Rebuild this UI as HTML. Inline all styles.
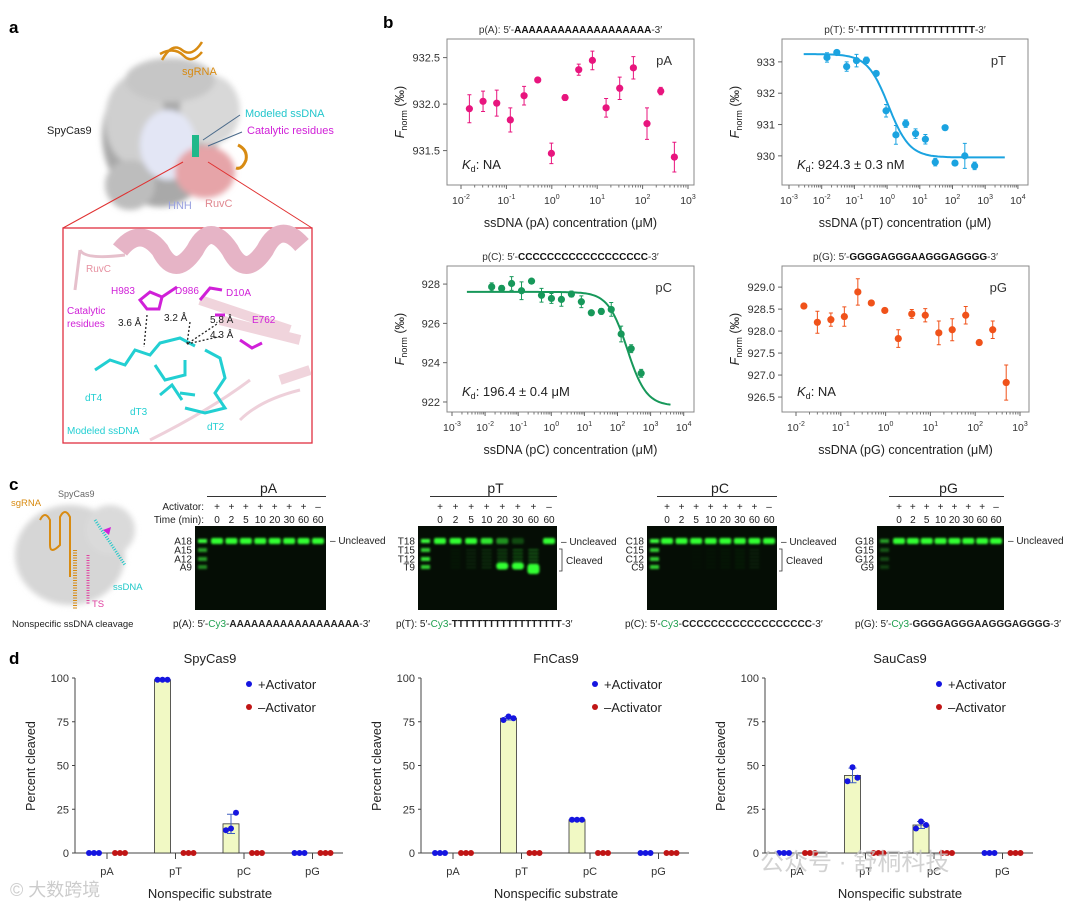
<!DOCTYPE html>
<html><head><meta charset="utf-8">
<style>
html,body{margin:0;padding:0;background:#fff;}
svg{display:block;font-family:"Liberation Sans",Arial,sans-serif;}
</style></head>
<body>
<svg id="fig" width="1080" height="908" viewBox="0 0 1080 908" xmlns="http://www.w3.org/2000/svg">
<defs>
<filter id="glow" x="-50%" y="-50%" width="200%" height="200%"><feGaussianBlur stdDeviation="1.1"/></filter>
<filter id="soft" x="-20%" y="-20%" width="140%" height="140%"><feGaussianBlur stdDeviation="3"/></filter>
</defs>
<!-- panel letters -->
<text x="9" y="33" font-size="17" font-weight="bold">a</text>
<text x="383" y="28" font-size="17" font-weight="bold">b</text>
<text x="9" y="490" font-size="17" font-weight="bold">c</text>
<text x="9" y="664" font-size="17" font-weight="bold">d</text>

<!-- panel a structure -->
<g>
 <g filter="url(#soft)">
  <ellipse cx="160" cy="135" rx="58" ry="72" fill="#a9a9a9"/>
  <ellipse cx="135" cy="120" rx="30" ry="45" fill="#cfcfcf"/>
  <ellipse cx="210" cy="110" rx="30" ry="35" fill="#d8d8d8"/>
  <ellipse cx="170" cy="80" rx="45" ry="22" fill="#c6c6c6"/>
  <ellipse cx="130" cy="185" rx="25" ry="25" fill="#bdbdbd"/>
  <ellipse cx="168" cy="145" rx="28" ry="35" fill="#e3e6f5"/>
  <ellipse cx="205" cy="172" rx="30" ry="26" fill="#e6a4a8"/>
 </g>
 <path d="M162,60 q10,-18 20,-10 q10,8 20,-8 M160,54 q14,-8 24,2 q8,8 18,-4" stroke="#d88b12" stroke-width="2.5" fill="none"/>
 <path d="M238,145 q10,5 8,15 q-4,10 -10,8" stroke="#d88b12" stroke-width="3" fill="none"/>
 <rect x="192" y="135" width="7" height="22" fill="#1fb88a"/>
 <line x1="203" y1="140" x2="240" y2="115" stroke="#4a6a8a" stroke-width="1"/>
 <line x1="208" y1="146" x2="242" y2="132" stroke="#4a6a8a" stroke-width="1"/>
</g>
<text x="182" y="75" font-size="11" fill="#d88b12">sgRNA</text>
<text x="245" y="117" font-size="11" fill="#22c6cc">Modeled ssDNA</text>
<text x="247" y="134" font-size="11" fill="#d020d8">Catalytic residues</text>
<text x="47" y="134" font-size="11" fill="#222">SpyCas9</text>
<text x="168" y="209" font-size="11" fill="#9aa2e0">HNH</text>
<text x="205" y="207" font-size="11" fill="#e08890">RuvC</text>
<line x1="183" y1="162" x2="63" y2="228" stroke="#e03030" stroke-width="1"/>
<line x1="208" y1="162" x2="312" y2="228" stroke="#e03030" stroke-width="1"/>
<g>
 <rect x="63" y="228" width="249" height="215" fill="#fff" stroke="#e03040" stroke-width="1.3"/>
 <path d="M120,250 q20,-25 40,0 q15,30 35,0 q15,-30 35,0 q15,30 35,0 q15,-30 37,-5" stroke="#e6b4c6" stroke-width="18" fill="none"/>
 <path d="M80,250 q5,10 45,5 M80,250 l-5,40" stroke="#e6c0cc" stroke-width="3" fill="none"/>
 <path d="M200,300 l90,30 M220,320 l80,20 M280,380 l30,-10" stroke="#f0d4dc" stroke-width="10" fill="none"/>
 <path d="M150,440 q60,-30 100,-60 M240,420 q20,-20 60,-30" stroke="#eed0da" stroke-width="3" fill="none"/>
 <g stroke="#22cfd2" stroke-width="3" fill="none">
  <path d="M95,370 l15,-10 l15,5 l10,-15 l15,5 l10,-12 l20,-5 l15,8"/>
  <path d="M155,365 l10,15 l20,-5 l0,-15 M160,395 l12,-10 l10,15"/>
  <path d="M205,350 l15,8 l5,20 l-10,15 l10,15 l-20,5 l-20,-5 M195,395 l-15,-2"/>
 </g>
 <g stroke="#d020d8" stroke-width="3" fill="none">
  <path d="M140,300 l10,-8 l12,5 l-3,12 l-12,0z M162,297 l15,-10"/>
  <path d="M200,300 l10,-12 l12,2 M215,315 l10,0"/>
  <path d="M240,340 l12,8 l10,-5"/>
 </g>
 <g stroke="#222" stroke-width="1.3" stroke-dasharray="2,2" fill="none">
  <path d="M147,315 l-3,32 M190,322 l-3,22 l30,-20 M187,344 l35,-8"/>
 </g>
</g>
<text x="86" y="272" font-size="10" fill="#e690a0">RuvC</text>
<text x="111" y="294" font-size="10" fill="#d020d8">H983</text>
<text x="175" y="294" font-size="10" fill="#d020d8">D986</text>
<text x="226" y="296" font-size="10" fill="#d020d8">D10A</text>
<text x="67" y="314" font-size="10" fill="#d020d8">Catalytic</text>
<text x="67" y="327" font-size="10" fill="#d020d8">residues</text>
<text x="118" y="326" font-size="10" fill="#222">3.6 Å</text>
<text x="164" y="321" font-size="10" fill="#222">3.2 Å</text>
<text x="210" y="323" font-size="10" fill="#222">5.8 Å</text>
<text x="210" y="338" font-size="10" fill="#222">4.3 Å</text>
<text x="252" y="323" font-size="10" fill="#d020d8">E762</text>
<text x="85" y="401" font-size="10" fill="#22cfd2">dT4</text>
<text x="130" y="415" font-size="10" fill="#22cfd2">dT3</text>
<text x="207" y="430" font-size="10" fill="#22cfd2">dT2</text>
<text x="67" y="434" font-size="10" fill="#22cfd2">Modeled ssDNA</text>

<!-- panel c cartoon -->
<g>
 <g filter="url(#soft)">
  <ellipse cx="70" cy="555" rx="55" ry="50" fill="#d6d6d6"/>
  <ellipse cx="110" cy="530" rx="25" ry="25" fill="#dadada"/>
 </g>
 <path d="M40,520 q5,-10 10,0 l0,25 q0,10 10,0 l0,-28 q5,-10 10,0 l0,60" stroke="#d88b12" stroke-width="2" fill="none"/>
 <line x1="75" y1="550" x2="75" y2="610" stroke="#d88b12" stroke-width="4" stroke-dasharray="1,1.5"/>
 <line x1="88" y1="555" x2="88" y2="605" stroke="#e040a0" stroke-width="3" stroke-dasharray="1,1.5"/>
 <line x1="95" y1="520" x2="125" y2="565" stroke="#20c8c8" stroke-width="3" stroke-dasharray="1,1.5"/>
 <path d="M103,530 l8,-3 l-2,8z" fill="#d020d8"/>
</g>
<text x="58" y="497" font-size="9" fill="#666">SpyCas9</text>
<text x="11" y="506" font-size="9.5" fill="#d88b12">sgRNA</text>
<text x="113" y="590" font-size="9.5" fill="#20c8c8">ssDNA</text>
<text x="92" y="607" font-size="9.5" fill="#e040a0">TS</text>
<text x="12" y="627" font-size="9.5" fill="#222">Nonspecific ssDNA cleavage</text>

<g id="panelB"></g>
<g id="panelC"></g>
<g id="panelD"></g>

<text x="10" y="896" font-size="18" fill="#ccc">© 大数跨境</text>
<text x="760" y="870" font-size="24" fill="#c8c8c8" opacity="0.8">公众号 · 舒桐科技</text>
</svg>
<script>
const NS = "http://www.w3.org/2000/svg";
function mk(parent, tag, attrs, txt) {
  const e = document.createElementNS(NS, tag);
  for (const k in attrs) e.setAttribute(k, attrs[k]);
  if (txt !== undefined) e.textContent = txt;
  parent.appendChild(e);
  return e;
}
const FONT = '"Liberation Sans","Noto Sans CJK SC",sans-serif';

/* ---------- Panel b data ---------- */
const pA_conc = [0.0153,0.0306,0.0612,0.122,0.245,0.49,0.98,1.96,3.92,7.84,15.7,31.3,62.7,125,251,501];
const pA_vals = [931.95,932.03,932.01,931.83,932.09,932.26,931.47,932.07,932.37,932.47,931.96,932.17,932.39,931.79,932.14,931.43];
const pA_err  = [0.15,0.11,0.14,0.13,0.10,0.02,0.11,0.03,0.06,0.10,0.10,0.12,0.12,0.17,0.04,0.16];
const pT_conc = [0.0145,0.029,0.058,0.116,0.232,0.464,0.93,1.86,3.71,7.42,14.8,29.7,59.4,119,238,475];
const pT_vals = [933.14,933.30,932.85,933.04,933.05,932.63,931.44,930.67,931.03,930.71,930.53,929.80,930.9,929.77,930.0,929.68];
const pT_err  = [0.15,0.05,0.15,0.2,0.1,0.05,0.2,0.3,0.12,0.15,0.15,0.12,0,0.05,0.4,0.12];
const pC_conc = [0.0158,0.0316,0.0632,0.126,0.253,0.506,1.01,2.02,4.05,8.09,16.2,32.4,64.7,129,259,518];
const pC_vals = [927.86,927.78,928.03,927.66,928.15,927.43,927.27,927.22,927.49,927.10,926.54,926.61,926.71,925.46,924.71,923.46];
const pC_err  = [0.2,0.15,0.35,0.45,0.1,0.35,0.25,0.35,0.15,0.3,0.1,0.15,0.35,0.4,0.2,0.2];
const pG_conc = [0.015,0.03,0.06,0.12,0.24,0.48,0.96,1.92,3.84,7.68,15.4,30.7,61.4,123,246,492];
const pG_vals = [928.57,928.20,928.26,928.33,928.89,928.64,928.47,927.83,928.39,928.36,927.96,928.03,928.36,927.74,928.03,926.83];
const pG_err  = [0.05,0.25,0.15,0.22,0.3,0.05,0.05,0.2,0.1,0.15,0.27,0.25,0.2,0.02,0.2,0.4];
const pA_yticks = [931.5,932.0,932.5];
const pT_yticks = [930,931,932,933];
const pC_yticks = [922,924,926,928];
const pG_yticks = [926.5,927.0,927.5,928.0,928.5,929.0];
const pT_fit = {top:933.25, bottom:929.95, kd:1.1, n:1.35};
const pC_fit = {top:927.6, bottom:921.8, kd:196, n:1.5};

const panelsB = [
 {key:"pa", title:"p(A):  5′-", seq:"AAAAAAAAAAAAAAAAAAA", name:"pA", color:"#e8157e", x0:447, x1:694, y0:39, y1:185, d0:-2, xAt:461, perDec:45.4, dMin:-2, dMax:3, vTop:932.70, vBot:931.13, yt:pA_yticks, fmt:v=>v.toFixed(1), conc:pA_conc, vals:pA_vals, err:pA_err, fit:null, kd:"NA", xl:"ssDNA (pA) concentration (μM)"},
 {key:"pt", title:"p(T):  5′-", seq:"TTTTTTTTTTTTTTTTTTT", name:"pT", color:"#1ba3e0", x0:782, x1:1028, y0:39, y1:185, d0:-3, xAt:789, perDec:32.7, dMin:-3, dMax:4, vTop:933.73, vBot:929.07, yt:pT_yticks, fmt:v=>v.toFixed(0), conc:pT_conc, vals:pT_vals, err:pT_err, fit:pT_fit, kd:"924.3 ± 0.3 nM", xl:"ssDNA (pT) concentration (μM)"},
 {key:"pc", title:"p(C):  5′-", seq:"CCCCCCCCCCCCCCCCCC", name:"pC", color:"#17985a", x0:447, x1:694, y0:266, y1:412, d0:-3, xAt:452, perDec:33.1, dMin:-3, dMax:4, vTop:928.92, vBot:921.49, yt:pC_yticks, fmt:v=>v.toFixed(0), conc:pC_conc, vals:pC_vals, err:pC_err, fit:pC_fit, kd:"196.4 ± 0.4 μM", xl:"ssDNA (pC) concentration (μM)"},
 {key:"pg", title:"p(G):  5′-", seq:"GGGGAGGGAAGGGAGGGG", name:"pG", color:"#f0521a", x0:782, x1:1029, y0:266, y1:412, d0:-2, xAt:796, perDec:44.8, dMin:-2, dMax:3, vTop:929.48, vBot:926.16, yt:pG_yticks, fmt:v=>v.toFixed(1), conc:pG_conc, vals:pG_vals, err:pG_err, fit:null, kd:"NA", xl:"ssDNA (pG) concentration (μM)"}
];

const gB = document.getElementById("panelB");
panelsB.forEach(p => {
  const g = mk(gB, "g", {});
  
  
  const xs = c => p.xAt + (Math.log10(c) - p.d0) * p.perDec;
  const ys = v => p.y0 + (p.vTop - v) / (p.vTop - p.vBot) * (p.y1 - p.y0);
  const cx = (p.x0 + p.x1) / 2;
  const t = mk(g, "text", {x: cx, y: p.y0 - 6, "font-size": 10, "text-anchor": "middle", fill: "#333"});
  
  
  mk(t, "tspan", {}, p.title);
  mk(t, "tspan", {"font-weight": "bold", fill: "#111"}, p.seq);
  mk(t, "tspan", {}, "-3′");
  const box = mk(g, "rect", {x: p.x0, y: p.y0, width: p.x1 - p.x0, height: p.y1 - p.y0, fill: "none", stroke: "#888", "stroke-width": 1});
  
  
  // y ticks
  p.yt.forEach(v => {
    const y = ys(v);
    mk(g, "line", {x1: p.x0 - 4, x2: p.x0, y1: y, y2: y, stroke: "#666"});
    const lb = mk(g, "text", {x: p.x0 - 7, y: y + 4, "font-size": 11, "text-anchor": "end", fill: "#333"}, p.fmt(v));
    
    
  });
  // x ticks
  for (let d = p.dMin; d <= p.dMax; d++) {
    const x = p.xAt + (d - p.d0) * p.perDec;
    mk(g, "line", {x1: x, x2: x, y1: p.y1, y2: p.y1 + 4, stroke: "#666"});
    const lb = mk(g, "text", {x: x, y: p.y1 + 19, "font-size": 10.5, "text-anchor": "middle", fill: "#333"});
    
    
    mk(lb, "tspan", {}, "10");
    mk(lb, "tspan", {dy: -5, "font-size": 7}, String(d));
    if (d < p.dMax) for (let m = 2; m < 10; m++) {
      const xm = x + Math.log10(m) * p.perDec;
      mk(g, "line", {x1: xm, x2: xm, y1: p.y1, y2: p.y1 + 2.5, stroke: "#777"});
    }
  }
  const xl = mk(g, "text", {x: cx, y: p.y1 + 42, "font-size": 12.5, "text-anchor": "middle", fill: "#222"}, p.xl);
  
  
  const yl = mk(g, "text", {transform: `translate(${p.x0 - 43},${(p.y0 + p.y1) / 2}) rotate(-90)`, "font-size": 12.5, "text-anchor": "middle", fill: "#222"});
  
  
  mk(yl, "tspan", {"font-style": "italic"}, "F");
  mk(yl, "tspan", {dy: 3, "font-size": 9}, "norm");
  mk(yl, "tspan", {dy: -3}, " (‰)");
  const nm = mk(g, "text", {x: p.x1 - 22, y: p.y0 + 26, "font-size": 13, "text-anchor": "end", fill: "#333"}, p.name);
  
  
  const kd = mk(g, "text", {x: p.x0 + 15, y: p.y1 - 16, "font-size": 13, fill: "#222"});
  
  
  mk(kd, "tspan", {"font-style": "italic"}, "K");
  mk(kd, "tspan", {dy: 3, "font-size": 9}, "d");
  mk(kd, "tspan", {dy: -3}, ": " + p.kd);
  if (p.fit) {
    const f = p.fit; let d = "";
    for (let i = 0; i <= 120; i++) {
      const lc = -2.55 + i * (6.15 / 120); const c = Math.pow(10, lc);
      const v = f.bottom + (f.top - f.bottom) / (1 + Math.pow(c / f.kd, f.n));
      d += (i ? "L" : "M") + xs(c).toFixed(1) + "," + ys(v).toFixed(1);
    }
    const fl = mk(g, "path", {d: d, stroke: p.color, "stroke-width": 2, fill: "none"});
    
    
  }
  p.conc.forEach((c, i) => {
    const x = xs(c), y = ys(p.vals[i]), e = p.err[i];
    if (e > 0) {
      const eb = mk(g, "path", {d: `M${x},${ys(p.vals[i] + e)}V${ys(p.vals[i] - e)}M${x - 2},${ys(p.vals[i] + e)}h4M${x - 2},${ys(p.vals[i] - e)}h4`, stroke: p.color, "stroke-width": 1, fill: "none"});
      
      
    }
    const pt = mk(g, "circle", {cx: x, cy: y, r: 3.6, fill: p.color});
    
    
  });
});

/* ---------- Panel c gels ---------- */
const lane_times = ["0","2","5","10","20","30","60","60"];
const lane_act = ["+","+","+","+","+","+","+","–"];
const gA_uncl = [1,1,1,1,1,1,1,1];
const gT_uncl = [1,1,1,0.9,0.55,0.25,0,1];
const gC_uncl = [1,1,1,1,1,1,1,1];
const gG_uncl = [1,1,1,1,1,1,1,1];
const gA_cleav = [0,0,0,0,0,0,0,0];
const gT_cleav = [0,0.15,0.3,0.45,0.7,0.9,1,0];
const gC_cleav = [0,0,0.05,0.1,0.15,0.2,0.25,0];
const gG_cleav = [0,0,0,0,0,0,0,0];
const gels = [
 {key:"pa", t:"pA", L:"A", x0:195, x1:326, lane0:217, uncl:gA_uncl, cl:gA_cleav, seq:"AAAAAAAAAAAAAAAAAA", cleavedLbl:false, ladder:[1,0.6,0.6,0.5]},
 {key:"pt", t:"pT", L:"T", x0:418, x1:557, lane0:440, uncl:gT_uncl, cl:gT_cleav, seq:"TTTTTTTTTTTTTTTTTT", cleavedLbl:true, ladder:[1,0.8,0.9,0.8]},
 {key:"pc", t:"pC", L:"C", x0:647, x1:777, lane0:667, uncl:gC_uncl, cl:gC_cleav, seq:"CCCCCCCCCCCCCCCCCC", cleavedLbl:true, ladder:[1,0.8,0.8,0.8]},
 {key:"pg", t:"pG", L:"G", x0:877, x1:1004, lane0:899, uncl:gG_uncl, cl:gG_cleav, seq:"GGGGAGGGAAGGGAGGGG", cleavedLbl:false, ladder:[0.6,0.3,0.25,0.2]}
];
const ladderSizes = ["18","15","12","9"];
const ladderY = [541,550,559,567];
const gC = document.getElementById("panelC");
gels.forEach((G, gi) => {
  const g = mk(gC, "g", {});
  
  
  const sp = (G.x1 - G.lane0 - 8) / 7;
  const cx = (G.x0 + G.x1) / 2 + 8;
  const tt = mk(g, "text", {x: cx, y: 493, "font-size": 14, "text-anchor": "middle", fill: "#222"}, G.t);
  
  
  mk(g, "line", {x1: G.lane0 - 10, x2: G.x1, y1: 496.5, y2: 496.5, stroke: "#333", "stroke-width": 1});
  if (gi === 0) {
    const a = mk(g, "text", {x: 204, y: 510, "font-size": 10, "text-anchor": "end", fill: "#222"}, "Activator:");
    
    
    const b = mk(g, "text", {x: 204, y: 523, "font-size": 10, "text-anchor": "end", fill: "#222"}, "Time (min):");
    
    
  }
  const bg = mk(g, "rect", {x: G.x0, y: 526, width: G.x1 - G.x0, height: 84, fill: "#050d05"});
  
  
  const bands = mk(g, "g", {filter: "url(#glow)"});
  ladderSizes.forEach((s, k) => {
    mk(bands, "rect", {x: G.x0 + 3, y: ladderY[k] - 2, width: 9, height: 4, fill: "#3cff3c", opacity: G.ladder[k]});
    const lb = mk(g, "text", {x: G.x0 - 3, y: ladderY[k] + 3.5, "font-size": 10, "text-anchor": "end", fill: "#222"}, G.L + s);
    
    
  });
  lane_times.forEach((tm, i) => {
    const lx = G.lane0 + i * sp;
    const ac = mk(g, "text", {x: lx, y: 510, "font-size": 10, "text-anchor": "middle", fill: "#222"}, lane_act[i]);
    
    
    const tl = mk(g, "text", {x: lx, y: 523, "font-size": 10, "text-anchor": "middle", fill: "#222"}, tm);
    
    
    if (G.uncl[i] > 0) {
      const b = mk(bands, "rect", {x: lx - 6, y: 538, width: 12, height: 6, rx: 2, fill: "#33ff33", opacity: G.uncl[i]});
      
      
    }
    const c = G.cl[i];
    if (c > 0) {
      for (let k = 0; k < 6; k++) mk(bands, "rect", {x: lx - 5, y: 549 + k * 3.5, width: 10, height: 2, fill: "#30ee30", opacity: c * 0.35});
      if (G.key === "pt" && c >= 0.7) {
        const h = c >= 1 ? 10 : 7;
        mk(bands, "rect", {x: lx - 6, y: 569 - h / 2 - (c >= 1 ? 0 : 3), width: 12, height: h, rx: 3, fill: "#33ff33"});
      }
    }
  });
  const u = mk(g, "text", {x: G.x1 + 4, y: G.key === "pa" || G.key === "pg" ? 544 : 545, "font-size": 10, fill: "#222"}, "– Uncleaved");
  
  
  if (G.cleavedLbl) {
    mk(g, "path", {d: `M${G.x1 + 2},549h3v22h-3`, stroke: "#333", fill: "none", "stroke-width": 0.8});
    const cl = mk(g, "text", {x: G.x1 + 9, y: 564, "font-size": 10, fill: "#222"}, "Cleaved");
    
    
  }
  const sq = mk(g, "text", {x: G.x0 - 22, y: 627, "font-size": 10, fill: "#222"});
  
  
  mk(sq, "tspan", {}, "p(" + G.L + "):  5′-");
  mk(sq, "tspan", {fill: "#20a050"}, "Cy3");
  mk(sq, "tspan", {}, "-");
  mk(sq, "tspan", {"font-weight": "bold"}, G.seq);
  mk(sq, "tspan", {}, "-3′");
});

/* ---------- Panel d bars ---------- */
const categories = ["pA","pT","pC","pG"];
const spy_plus = [[0,0,0],[99,99,99],[13,14,23],[0,0,0]];
const fn_plus  = [[0,0,0],[76,78,77],[19,19,19],[0,0,0]];
const sau_plus = [[0,0,0],[41,49,43],[14,18,16],[0,0,0]];
const spy_minus = [[0,0,0],[0,0,0],[0,0,0],[0,0,0]];
const fn_minus  = [[0,0,0],[0,0,0],[0,0,0],[0,0,0]];
const sau_minus = [[0,0,0],[0,0,0],[0,0,0],[0,0,0]];
const d_yticks = [0,25,50,75,100];
const dPanels = [
 {key:"spycas9", title:"SpyCas9", ax:75, plus:spy_plus, minus:spy_minus},
 {key:"fncas9", title:"FnCas9", ax:421, plus:fn_plus, minus:fn_minus},
 {key:"saucas9", title:"SauCas9", ax:765, plus:sau_plus, minus:sau_minus}
];
const gD = document.getElementById("panelD");
const mean = a => a.reduce((s, v) => s + v, 0) / a.length;
const sd = a => { const m = mean(a); return Math.sqrt(a.reduce((s, v) => s + (v - m) * (v - m), 0) / (a.length - 1)); };
dPanels.forEach(P => {
  const g = mk(gD, "g", {});
  
  
  const ys = v => 853 - v * 1.75;
  const xc = i => P.ax + 32 + i * 68.5;
  const tt = mk(g, "text", {x: P.ax + 135, y: 663, "font-size": 13, "text-anchor": "middle", fill: "#222"}, P.title);
  
  
  mk(g, "line", {x1: P.ax, x2: P.ax, y1: ys(100), y2: 853, stroke: "#444"});
  mk(g, "line", {x1: P.ax, x2: P.ax + 268, y1: 853, y2: 853, stroke: "#444"});
  d_yticks.forEach(v => {
    mk(g, "line", {x1: P.ax - 3, x2: P.ax, y1: ys(v), y2: ys(v), stroke: "#444"});
    const lb = mk(g, "text", {x: P.ax - 6, y: ys(v) + 4, "font-size": 11, "text-anchor": "end", fill: "#333"}, String(v));
    
    
  });
  const yl = mk(g, "text", {transform: `translate(${P.ax - 40},766) rotate(-90)`, "font-size": 12.5, "text-anchor": "middle", fill: "#222"}, "Percent cleaved");
  
  
  const xl = mk(g, "text", {x: P.ax + 135, y: 898, "font-size": 13, "text-anchor": "middle", fill: "#222"}, "Nonspecific substrate");
  
  
  categories.forEach((cat, i) => {
    const cx = xc(i), bx = cx - 13, rx = cx + 13;
    mk(g, "line", {x1: cx, x2: cx, y1: 853, y2: 859, stroke: "#444"});
    const cl = mk(g, "text", {x: cx, y: 875, "font-size": 11, "text-anchor": "middle", fill: "#333"}, cat);
    
    
    const vals = P.plus[i], m = mean(vals);
    if (m > 0) {
      const bar = mk(g, "rect", {x: bx - 8, y: ys(m), width: 16, height: 853 - ys(m), fill: "#f1f9c4", stroke: "#333", "stroke-width": 0.8});
      
      
      const s = sd(vals);
      if (s > 0.8) {
        const eb = mk(g, "path", {d: `M${bx},${ys(m + s)}V${ys(m - s)}M${bx - 4},${ys(m + s)}h8M${bx - 4},${ys(m - s)}h8`, stroke: "#4060c0", "stroke-width": 1, fill: "none"});
        
        
      }
    }
    vals.forEach((v, k) => {
      const d = mk(g, "circle", {cx: bx - 5 + k * 5, cy: ys(v), r: 3, fill: "#1515e0"});
      
      
    });
    P.minus[i].forEach((v, k) => {
      const d = mk(g, "circle", {cx: rx - 5 + k * 5, cy: ys(v), r: 3, fill: "#c01515"});
      
      
    });
  });
  const l1 = mk(g, "circle", {cx: P.ax + 174, cy: 684, r: 3, fill: "#1515e0"});
  
  
  const t1 = mk(g, "text", {x: P.ax + 183, y: 689, "font-size": 13, fill: "#222"}, "+Activator");
  
  
  const l2 = mk(g, "circle", {cx: P.ax + 174, cy: 707, r: 3, fill: "#c01515"});
  
  
  const t2 = mk(g, "text", {x: P.ax + 183, y: 712, "font-size": 13, fill: "#222"}, "–Activator");
  
  
});
</script>
</body></html>
